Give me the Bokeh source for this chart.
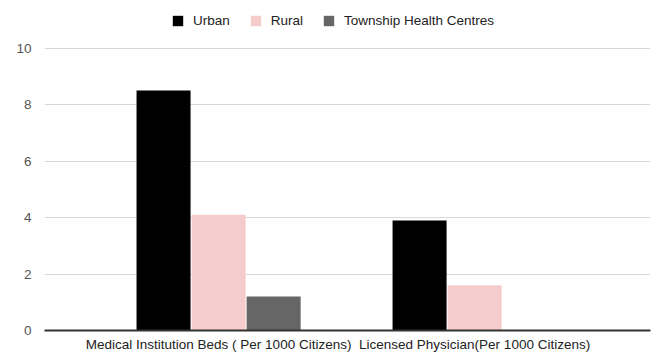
from bokeh.plotting import figure
from bokeh.models import Range1d, Legend, LegendItem, ColumnDataSource, FixedTicker
from bokeh.transform import dodge
from bokeh.embed import file_html
from bokeh.resources import INLINE

# Data
categories = ["Medical Institution Beds ( Per 1000 Citizens)", "Licensed Physician(Per 1000 Citizens)"]
urban = [8.5, 3.9]
rural = [4.1, 1.6]
township = [1.2, 0.0]
series_names = ["Urban", "Rural", "Township Health Centres"]
series_colors = ["#000000", "#f4cccc", "#666666"]
y_ticks = [0, 2, 4, 6, 8, 10]

FONT = "Liberation Sans"

src = ColumnDataSource(dict(x=list(range(len(categories))), urban=urban, rural=rural, township=township))

# The frame reaches the top of the canvas so the legend can sit above the 10 line;
# gridlines and labels stop at 10 through the fixed ticker.
p = figure(width=653, height=354, output_backend="svg", toolbar_location=None,
           x_range=Range1d(-0.680, 1.687), y_range=Range1d(0, 11.69),
           min_border_left=44, min_border_right=3, min_border_top=0, min_border_bottom=22)
p.outline_line_color = None
p.background_fill_color = "white"
p.border_fill_color = "white"

bw = 0.211
step = 0.215
renderers = []
for col, off, color in zip(["urban", "rural", "township"], [-step, 0, step], series_colors):
    r = p.vbar(x=dodge("x", off), top=col, width=bw, source=src, fill_color=color,
               line_color=None)
    renderers.append(r)

# Axes
p.yaxis.ticker = FixedTicker(ticks=y_ticks)
p.yaxis.axis_line_color = None
p.yaxis.major_tick_line_color = None
p.yaxis.minor_tick_line_color = None
p.yaxis.major_label_text_font = FONT
p.yaxis.major_label_text_font_size = "13.5px"
p.yaxis.major_label_text_color = "#555555"
p.yaxis.major_label_standoff = 7

p.xaxis.ticker = FixedTicker(ticks=list(range(len(categories))))
p.xaxis.major_label_overrides = {i: c for i, c in enumerate(categories)}
p.xaxis.axis_line_color = "#333333"
p.xaxis.axis_line_width = 2
p.xaxis.major_tick_line_color = None
p.xaxis.minor_tick_line_color = None
p.xaxis.major_label_text_font = FONT
p.xaxis.major_label_text_font_size = "13.5px"
p.xaxis.major_label_text_color = "#222222"
p.xaxis.major_label_standoff = 0

p.xgrid.grid_line_color = None
p.ygrid.grid_line_color = "#d9d9d9"
p.ygrid.grid_line_width = 1
p.ygrid.ticker = FixedTicker(ticks=y_ticks)

# Legend sits above the 10 line, centred
legend = Legend(items=[LegendItem(label=n, renderers=[r]) for n, r in zip(series_names, renderers)],
                orientation="horizontal", location=(127, 302),
                label_text_font=FONT, label_text_font_size="13.5px", label_text_color="#222222",
                glyph_width=13, glyph_height=13, label_standoff=9, spacing=19,
                padding=0, margin=0, border_line_color=None, background_fill_alpha=0)
p.add_layout(legend, "center")

open("out.html", "w").write(file_html(p, INLINE))
